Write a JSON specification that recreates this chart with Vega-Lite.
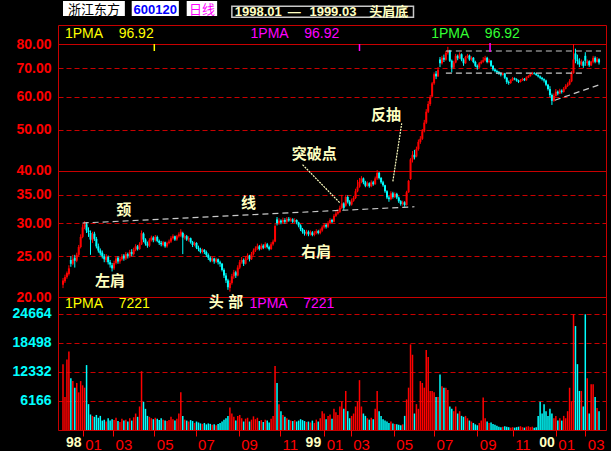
{
"$schema": "https://vega.github.io/schema/vega-lite/v6.json",
"background": "#000000",
"padding": {"left": 0, "top": 0, "right": 6, "bottom": 0},
"spacing": 0,
"bounds": "flush",
"config": {"view": {"stroke": "#c80000", "strokeWidth": 1}, "concat": {"spacing": 0}},
"resolve": {"scale": {"x": "independent", "y": "independent"}},
"datasets": {
"k": [
{"i":0,"o":21.4,"h":22.2,"l":21.0,"c":21.9,"v":14000},
{"i":2,"o":21.8,"h":22.6,"l":21.6,"c":22.3,"v":7000},
{"i":4,"o":22.3,"h":23.0,"l":22.1,"c":22.8,"v":15000},
{"i":6,"o":22.7,"h":23.8,"l":22.5,"c":23.4,"v":16700},
{"i":8,"o":24.5,"h":25.0,"l":23.6,"c":24.0,"v":11000},
{"i":10,"o":24.0,"h":25.2,"l":23.8,"c":24.6,"v":10400},
{"i":12,"o":24.8,"h":25.2,"l":23.5,"c":24.4,"v":9000},
{"i":14,"o":24.4,"h":25.5,"l":24.2,"c":25.2,"v":10000},
{"i":16,"o":25.2,"h":26.6,"l":25.0,"c":26.3,"v":8000},
{"i":18,"o":26.3,"h":28.2,"l":26.1,"c":27.8,"v":10400},
{"i":20,"o":27.8,"h":29.8,"l":27.6,"c":29.3,"v":9500},
{"i":22,"o":29.3,"h":30.3,"l":29.0,"c":29.8,"v":9000},
{"i":24,"o":29.8,"h":30.1,"l":28.4,"c":28.8,"v":13800},
{"i":26,"o":28.8,"h":29.3,"l":27.8,"c":28.5,"v":5500},
{"i":28,"o":28.4,"h":28.8,"l":25.2,"c":27.4,"v":3300},
{"i":30,"o":27.3,"h":28.6,"l":26.9,"c":28.2,"v":3000},
{"i":32,"o":28.3,"h":28.6,"l":27.2,"c":27.5,"v":2800},
{"i":34,"o":27.5,"h":27.8,"l":26.1,"c":26.4,"v":3200},
{"i":36,"o":26.4,"h":26.8,"l":25.5,"c":25.8,"v":2600},
{"i":38,"o":25.8,"h":26.1,"l":25.1,"c":25.4,"v":3000},
{"i":40,"o":25.5,"h":25.8,"l":24.7,"c":25.0,"v":2000},
{"i":42,"o":25.0,"h":25.3,"l":24.2,"c":24.6,"v":2200},
{"i":44,"o":24.5,"h":25.3,"l":24.2,"c":24.9,"v":1800},
{"i":46,"o":24.9,"h":25.1,"l":23.9,"c":24.2,"v":2500},
{"i":48,"o":24.2,"h":24.5,"l":23.5,"c":23.9,"v":2000},
{"i":50,"o":23.8,"h":24.1,"l":23.0,"c":23.4,"v":2300},
{"i":52,"o":23.4,"h":24.4,"l":23.2,"c":24.1,"v":2100},
{"i":54,"o":24.1,"h":25.0,"l":23.9,"c":24.7,"v":2600},
{"i":56,"o":24.8,"h":25.0,"l":24.0,"c":24.3,"v":1900},
{"i":58,"o":24.3,"h":24.9,"l":24.0,"c":24.6,"v":1700},
{"i":60,"o":24.6,"h":25.3,"l":24.4,"c":25.0,"v":2400},
{"i":62,"o":25.1,"h":25.3,"l":24.4,"c":24.7,"v":2000},
{"i":64,"o":24.7,"h":25.6,"l":24.5,"c":25.3,"v":2200},
{"i":66,"o":25.3,"h":25.5,"l":24.7,"c":25.0,"v":1800},
{"i":68,"o":25.0,"h":25.9,"l":24.8,"c":25.6,"v":2500},
{"i":70,"o":25.6,"h":26.0,"l":25.0,"c":25.3,"v":2000},
{"i":72,"o":25.3,"h":26.2,"l":25.1,"c":25.9,"v":2700},
{"i":74,"o":25.9,"h":26.7,"l":25.7,"c":26.4,"v":3500},
{"i":76,"o":26.4,"h":26.6,"l":25.8,"c":26.0,"v":2800},
{"i":78,"o":26.0,"h":27.0,"l":25.9,"c":26.7,"v":5000},
{"i":80,"o":26.7,"h":28.8,"l":26.6,"c":28.4,"v":12500},
{"i":82,"o":28.3,"h":28.5,"l":27.0,"c":27.4,"v":6000},
{"i":84,"o":27.4,"h":27.6,"l":26.5,"c":26.8,"v":4500},
{"i":86,"o":26.8,"h":27.1,"l":26.2,"c":26.5,"v":3000},
{"i":88,"o":26.5,"h":27.6,"l":26.3,"c":27.3,"v":2800},
{"i":90,"o":27.3,"h":28.0,"l":27.1,"c":27.7,"v":2500},
{"i":92,"o":27.7,"h":27.9,"l":27.0,"c":27.3,"v":2300},
{"i":94,"o":27.3,"h":28.1,"l":27.1,"c":27.8,"v":2600},
{"i":96,"o":27.8,"h":28.0,"l":27.0,"c":27.2,"v":2400},
{"i":98,"o":27.2,"h":27.4,"l":26.6,"c":26.9,"v":2100},
{"i":100,"o":26.9,"h":27.2,"l":26.4,"c":26.7,"v":2500},
{"i":102,"o":26.6,"h":27.2,"l":26.4,"c":27.0,"v":2200},
{"i":104,"o":27.0,"h":27.1,"l":26.2,"c":26.4,"v":2000},
{"i":106,"o":26.4,"h":27.1,"l":26.2,"c":26.9,"v":1900},
{"i":108,"o":26.9,"h":27.4,"l":26.7,"c":27.1,"v":2100},
{"i":110,"o":27.1,"h":27.9,"l":26.9,"c":27.6,"v":2800},
{"i":112,"o":27.6,"h":28.2,"l":27.4,"c":27.9,"v":2300},
{"i":114,"o":27.9,"h":28.0,"l":27.2,"c":27.4,"v":2000},
{"i":116,"o":27.4,"h":28.1,"l":27.2,"c":27.9,"v":2400},
{"i":118,"o":27.9,"h":28.5,"l":27.7,"c":28.2,"v":3500},
{"i":120,"o":28.0,"h":29.0,"l":27.8,"c":28.6,"v":8000},
{"i":122,"o":28.4,"h":28.6,"l":25.3,"c":27.7,"v":3000},
{"i":124,"o":27.7,"h":28.2,"l":27.4,"c":27.9,"v":2200},
{"i":126,"o":27.9,"h":28.1,"l":27.2,"c":27.4,"v":2000},
{"i":128,"o":27.4,"h":27.9,"l":27.1,"c":27.6,"v":1800},
{"i":130,"o":27.6,"h":27.7,"l":26.8,"c":27.0,"v":2100},
{"i":132,"o":27.0,"h":27.2,"l":26.3,"c":26.6,"v":1900},
{"i":134,"o":26.6,"h":27.1,"l":26.4,"c":26.9,"v":1500},
{"i":136,"o":26.9,"h":27.0,"l":26.0,"c":26.2,"v":1800},
{"i":138,"o":26.2,"h":26.5,"l":25.7,"c":26.0,"v":1600},
{"i":140,"o":26.0,"h":26.2,"l":25.4,"c":25.6,"v":1400},
{"i":142,"o":25.6,"h":26.1,"l":25.4,"c":25.9,"v":1300},
{"i":144,"o":25.9,"h":26.0,"l":25.3,"c":25.6,"v":1500},
{"i":146,"o":25.6,"h":25.8,"l":24.9,"c":25.2,"v":1200},
{"i":148,"o":25.2,"h":25.4,"l":24.5,"c":24.8,"v":1400},
{"i":150,"o":24.8,"h":25.0,"l":24.2,"c":24.4,"v":1300},
{"i":152,"o":24.4,"h":24.9,"l":24.2,"c":24.7,"v":1100},
{"i":154,"o":24.7,"h":24.8,"l":24.0,"c":24.3,"v":1200},
{"i":156,"o":24.3,"h":24.8,"l":24.1,"c":24.6,"v":1000},
{"i":158,"o":24.6,"h":24.7,"l":23.9,"c":24.2,"v":1300},
{"i":160,"o":24.2,"h":24.4,"l":23.6,"c":24.0,"v":1500},
{"i":162,"o":24.0,"h":24.1,"l":23.0,"c":23.2,"v":1800},
{"i":164,"o":23.2,"h":23.4,"l":22.2,"c":22.5,"v":2200},
{"i":166,"o":22.5,"h":22.8,"l":21.6,"c":21.9,"v":2500},
{"i":168,"o":21.9,"h":22.1,"l":20.8,"c":21.1,"v":3000},
{"i":170,"o":21.0,"h":21.9,"l":20.6,"c":21.6,"v":4800},
{"i":172,"o":21.6,"h":22.7,"l":21.4,"c":22.4,"v":3500},
{"i":174,"o":22.4,"h":23.2,"l":22.1,"c":22.9,"v":2800},
{"i":176,"o":22.9,"h":23.1,"l":22.2,"c":22.5,"v":2000},
{"i":178,"o":22.5,"h":23.8,"l":22.4,"c":23.5,"v":3000},
{"i":180,"o":23.5,"h":24.5,"l":23.3,"c":24.2,"v":3200},
{"i":182,"o":24.2,"h":24.9,"l":24.0,"c":24.5,"v":2500},
{"i":184,"o":24.5,"h":24.7,"l":23.7,"c":24.0,"v":1800},
{"i":186,"o":24.0,"h":25.0,"l":23.9,"c":24.7,"v":2400},
{"i":188,"o":24.7,"h":25.4,"l":24.5,"c":25.1,"v":2600},
{"i":190,"o":25.1,"h":25.2,"l":24.3,"c":24.6,"v":1800},
{"i":192,"o":24.6,"h":25.6,"l":24.5,"c":25.3,"v":2200},
{"i":194,"o":25.3,"h":26.1,"l":25.1,"c":25.8,"v":2900},
{"i":196,"o":25.8,"h":26.4,"l":25.6,"c":26.1,"v":2300},
{"i":198,"o":26.1,"h":26.8,"l":25.9,"c":26.4,"v":2600},
{"i":200,"o":26.4,"h":26.6,"l":25.8,"c":26.0,"v":1900},
{"i":202,"o":26.0,"h":26.8,"l":25.9,"c":26.5,"v":2100},
{"i":204,"o":26.5,"h":26.7,"l":26.0,"c":26.2,"v":1700},
{"i":206,"o":26.2,"h":27.0,"l":26.1,"c":26.7,"v":2200},
{"i":208,"o":26.7,"h":26.9,"l":26.1,"c":26.3,"v":2000},
{"i":210,"o":26.3,"h":26.5,"l":25.8,"c":26.0,"v":1600},
{"i":212,"o":26.0,"h":27.0,"l":25.9,"c":26.7,"v":2400},
{"i":214,"o":26.7,"h":27.4,"l":26.5,"c":27.1,"v":3000},
{"i":216,"o":27.1,"h":29.8,"l":27.0,"c":29.5,"v":13600},
{"i":218,"o":30.6,"h":31.0,"l":29.6,"c":30.0,"v":10000},
{"i":220,"o":30.0,"h":30.8,"l":29.7,"c":30.4,"v":5500},
{"i":222,"o":30.4,"h":30.6,"l":29.8,"c":30.1,"v":4000},
{"i":224,"o":30.1,"h":30.9,"l":29.9,"c":30.5,"v":3200},
{"i":226,"o":30.5,"h":30.8,"l":29.9,"c":30.2,"v":2800},
{"i":228,"o":30.2,"h":31.0,"l":30.0,"c":30.7,"v":2500},
{"i":230,"o":30.7,"h":31.0,"l":30.2,"c":30.4,"v":2200},
{"i":232,"o":30.4,"h":30.9,"l":30.2,"c":30.6,"v":2000},
{"i":234,"o":30.6,"h":30.8,"l":30.0,"c":30.2,"v":1900},
{"i":236,"o":30.2,"h":30.8,"l":30.0,"c":30.5,"v":2100},
{"i":238,"o":30.5,"h":30.6,"l":29.8,"c":30.1,"v":1800},
{"i":240,"o":30.1,"h":30.2,"l":29.3,"c":29.6,"v":2000},
{"i":242,"o":29.6,"h":29.8,"l":28.7,"c":29.0,"v":2300},
{"i":244,"o":29.0,"h":29.2,"l":28.3,"c":28.6,"v":2100},
{"i":246,"o":28.6,"h":28.9,"l":28.0,"c":28.3,"v":1900},
{"i":248,"o":28.3,"h":28.9,"l":28.0,"c":28.6,"v":1700},
{"i":250,"o":28.6,"h":28.8,"l":27.9,"c":28.2,"v":1800},
{"i":252,"o":28.2,"h":28.8,"l":28.0,"c":28.5,"v":1600},
{"i":254,"o":28.5,"h":28.7,"l":27.9,"c":28.1,"v":2000},
{"i":256,"o":28.1,"h":28.7,"l":27.9,"c":28.4,"v":1500},
{"i":258,"o":28.4,"h":29.0,"l":28.2,"c":28.7,"v":2200},
{"i":260,"o":28.7,"h":28.9,"l":28.2,"c":28.4,"v":1800},
{"i":262,"o":28.4,"h":29.1,"l":28.2,"c":28.8,"v":2500},
{"i":264,"o":28.8,"h":29.6,"l":28.6,"c":29.3,"v":4000},
{"i":266,"o":29.3,"h":30.0,"l":29.1,"c":29.7,"v":3500},
{"i":268,"o":29.7,"h":29.9,"l":29.1,"c":29.4,"v":2300},
{"i":270,"o":29.4,"h":30.3,"l":29.2,"c":30.0,"v":3000},
{"i":272,"o":30.0,"h":30.8,"l":29.8,"c":30.5,"v":3300},
{"i":274,"o":30.5,"h":30.7,"l":30.0,"c":30.2,"v":2400},
{"i":276,"o":30.2,"h":31.5,"l":30.1,"c":31.2,"v":4500},
{"i":278,"o":31.2,"h":32.0,"l":31.0,"c":31.6,"v":3800},
{"i":280,"o":31.6,"h":32.3,"l":31.4,"c":31.9,"v":3200},
{"i":282,"o":31.9,"h":33.0,"l":31.7,"c":32.6,"v":5000},
{"i":284,"o":32.6,"h":35.0,"l":32.4,"c":33.4,"v":6000},
{"i":286,"o":33.4,"h":33.6,"l":32.2,"c":32.6,"v":4500},
{"i":288,"o":33.0,"h":35.0,"l":32.8,"c":34.6,"v":8300},
{"i":290,"o":34.6,"h":34.9,"l":33.4,"c":33.7,"v":4000},
{"i":292,"o":33.7,"h":34.0,"l":32.9,"c":33.2,"v":2500},
{"i":294,"o":33.2,"h":34.3,"l":33.0,"c":33.9,"v":3000},
{"i":296,"o":33.9,"h":34.8,"l":33.7,"c":34.4,"v":3500},
{"i":298,"o":34.4,"h":36.2,"l":34.2,"c":35.7,"v":5000},
{"i":300,"o":35.7,"h":38.0,"l":35.5,"c":36.6,"v":6000},
{"i":302,"o":36.6,"h":38.4,"l":36.4,"c":37.6,"v":10600},
{"i":304,"o":37.6,"h":38.8,"l":37.3,"c":38.3,"v":5000},
{"i":306,"o":38.3,"h":38.5,"l":37.1,"c":37.5,"v":3500},
{"i":308,"o":37.5,"h":37.8,"l":36.5,"c":36.8,"v":3000},
{"i":310,"o":36.8,"h":37.7,"l":36.6,"c":37.3,"v":2500},
{"i":312,"o":37.3,"h":37.5,"l":36.4,"c":36.7,"v":2200},
{"i":314,"o":36.7,"h":37.9,"l":36.5,"c":37.5,"v":2600},
{"i":316,"o":37.5,"h":37.8,"l":36.8,"c":37.1,"v":2300},
{"i":318,"o":37.1,"h":38.7,"l":37.0,"c":38.3,"v":4500},
{"i":320,"o":38.3,"h":40.1,"l":38.0,"c":39.5,"v":8300},
{"i":322,"o":39.5,"h":39.7,"l":38.1,"c":38.4,"v":4000},
{"i":324,"o":38.4,"h":38.6,"l":37.2,"c":37.5,"v":3000},
{"i":326,"o":37.5,"h":37.8,"l":36.6,"c":36.9,"v":2300},
{"i":328,"o":36.9,"h":37.0,"l":35.4,"c":35.7,"v":2000},
{"i":330,"o":35.7,"h":35.9,"l":34.2,"c":34.5,"v":1800},
{"i":332,"o":34.5,"h":34.8,"l":33.7,"c":34.2,"v":1500},
{"i":334,"o":34.2,"h":35.7,"l":34.0,"c":35.3,"v":1800},
{"i":336,"o":35.3,"h":35.6,"l":34.3,"c":34.6,"v":1400},
{"i":338,"o":34.6,"h":35.5,"l":34.4,"c":35.2,"v":1300},
{"i":340,"o":35.2,"h":35.4,"l":34.2,"c":34.5,"v":1200},
{"i":342,"o":34.5,"h":34.7,"l":33.5,"c":33.8,"v":1100},
{"i":344,"o":33.8,"h":34.0,"l":33.0,"c":33.3,"v":1000},
{"i":346,"o":33.3,"h":33.9,"l":33.0,"c":33.6,"v":1200},
{"i":348,"o":33.6,"h":33.8,"l":32.8,"c":33.1,"v":3000},
{"i":350,"o":33.1,"h":35.8,"l":33.0,"c":35.5,"v":6500},
{"i":352,"o":35.5,"h":38.0,"l":35.4,"c":37.8,"v":9000},
{"i":354,"o":38.2,"h":42.8,"l":38.0,"c":42.5,"v":18200},
{"i":356,"o":42.5,"h":44.5,"l":41.8,"c":43.6,"v":16000},
{"i":358,"o":43.6,"h":44.8,"l":42.5,"c":43.0,"v":3500},
{"i":360,"o":43.2,"h":45.6,"l":43.0,"c":45.0,"v":5500},
{"i":362,"o":45.0,"h":47.4,"l":44.6,"c":46.8,"v":4500},
{"i":364,"o":46.8,"h":48.3,"l":46.3,"c":47.6,"v":10400},
{"i":366,"o":47.6,"h":50.2,"l":47.3,"c":49.6,"v":10000},
{"i":368,"o":49.6,"h":52.8,"l":49.3,"c":52.0,"v":9000},
{"i":370,"o":52.0,"h":56.0,"l":51.6,"c":55.2,"v":17000},
{"i":372,"o":55.2,"h":58.5,"l":54.8,"c":57.6,"v":15500},
{"i":374,"o":57.6,"h":60.5,"l":57.0,"c":59.8,"v":8300},
{"i":376,"o":60.0,"h":65.0,"l":59.7,"c":64.5,"v":8300},
{"i":378,"o":64.5,"h":68.5,"l":64.0,"c":67.8,"v":8000},
{"i":380,"o":68.0,"h":69.0,"l":66.0,"c":67.0,"v":7000},
{"i":382,"o":67.0,"h":70.5,"l":66.8,"c":69.5,"v":7000},
{"i":384,"o":73.5,"h":74.5,"l":70.5,"c":72.0,"v":11800},
{"i":386,"o":72.0,"h":75.0,"l":71.5,"c":74.2,"v":9300},
{"i":388,"o":74.2,"h":75.5,"l":72.5,"c":73.4,"v":9000},
{"i":390,"o":73.4,"h":77.0,"l":73.0,"c":76.2,"v":9000},
{"i":392,"o":76.2,"h":78.8,"l":75.5,"c":77.2,"v":8500},
{"i":394,"o":77.2,"h":77.5,"l":72.5,"c":73.0,"v":5000},
{"i":396,"o":73.0,"h":73.5,"l":68.5,"c":70.3,"v":4500},
{"i":398,"o":70.3,"h":73.0,"l":69.8,"c":72.3,"v":4000},
{"i":400,"o":72.3,"h":75.8,"l":72.0,"c":75.0,"v":5000},
{"i":402,"o":75.0,"h":75.5,"l":73.2,"c":74.0,"v":3500},
{"i":404,"o":74.0,"h":76.5,"l":73.7,"c":75.6,"v":4000},
{"i":406,"o":75.6,"h":76.0,"l":72.8,"c":73.5,"v":3000},
{"i":408,"o":73.5,"h":74.0,"l":71.0,"c":72.0,"v":2800},
{"i":410,"o":72.0,"h":75.0,"l":71.8,"c":74.5,"v":3000},
{"i":412,"o":74.5,"h":75.8,"l":74.0,"c":75.1,"v":2500},
{"i":414,"o":75.1,"h":75.5,"l":73.0,"c":73.5,"v":2000},
{"i":416,"o":73.5,"h":74.8,"l":73.0,"c":74.2,"v":1800},
{"i":418,"o":74.2,"h":74.5,"l":72.0,"c":72.5,"v":1500},
{"i":420,"o":72.5,"h":73.0,"l":70.5,"c":71.0,"v":1200},
{"i":422,"o":71.0,"h":71.5,"l":69.5,"c":70.4,"v":1000},
{"i":424,"o":70.4,"h":72.5,"l":70.0,"c":72.0,"v":1500},
{"i":426,"o":72.0,"h":73.2,"l":71.6,"c":72.6,"v":2000},
{"i":428,"o":72.6,"h":74.5,"l":72.2,"c":73.2,"v":6900},
{"i":430,"o":73.2,"h":75.0,"l":72.8,"c":74.2,"v":2500},
{"i":432,"o":74.2,"h":74.6,"l":72.0,"c":72.5,"v":1800},
{"i":434,"o":72.5,"h":73.8,"l":72.0,"c":73.0,"v":1500},
{"i":436,"o":73.0,"h":73.3,"l":70.5,"c":71.0,"v":1600},
{"i":438,"o":71.0,"h":71.3,"l":69.0,"c":69.6,"v":1300},
{"i":440,"o":69.6,"h":70.0,"l":68.5,"c":69.0,"v":1100},
{"i":442,"o":69.0,"h":69.5,"l":68.0,"c":68.6,"v":900},
{"i":444,"o":68.6,"h":69.0,"l":67.6,"c":68.1,"v":700},
{"i":446,"o":68.1,"h":68.5,"l":67.0,"c":67.6,"v":600},
{"i":448,"o":67.6,"h":68.5,"l":67.3,"c":68.1,"v":700},
{"i":450,"o":68.1,"h":68.3,"l":66.0,"c":66.5,"v":800},
{"i":452,"o":66.5,"h":66.8,"l":64.3,"c":65.0,"v":700},
{"i":454,"o":65.0,"h":65.5,"l":64.0,"c":64.6,"v":600},
{"i":456,"o":64.6,"h":66.0,"l":64.3,"c":65.6,"v":500},
{"i":458,"o":65.6,"h":66.8,"l":65.3,"c":66.3,"v":600},
{"i":460,"o":66.3,"h":66.6,"l":65.6,"c":66.0,"v":500},
{"i":462,"o":66.0,"h":66.3,"l":65.1,"c":65.5,"v":600},
{"i":464,"o":65.5,"h":65.8,"l":64.6,"c":65.0,"v":700},
{"i":466,"o":65.0,"h":66.0,"l":64.8,"c":65.6,"v":800},
{"i":468,"o":65.6,"h":66.5,"l":65.3,"c":66.1,"v":600},
{"i":470,"o":66.1,"h":66.4,"l":65.3,"c":65.6,"v":500},
{"i":472,"o":65.6,"h":67.0,"l":65.4,"c":66.6,"v":700},
{"i":474,"o":66.6,"h":67.5,"l":66.4,"c":67.1,"v":800},
{"i":476,"o":67.1,"h":68.2,"l":66.9,"c":67.8,"v":600},
{"i":478,"o":67.8,"h":68.7,"l":67.6,"c":68.3,"v":700},
{"i":480,"o":68.3,"h":68.6,"l":67.7,"c":68.0,"v":500},
{"i":482,"o":68.0,"h":68.3,"l":67.2,"c":67.5,"v":600},
{"i":484,"o":67.5,"h":67.8,"l":66.6,"c":67.0,"v":3000},
{"i":486,"o":67.0,"h":67.3,"l":66.0,"c":66.5,"v":6000},
{"i":488,"o":66.5,"h":66.8,"l":65.5,"c":66.0,"v":3500},
{"i":490,"o":66.0,"h":66.3,"l":64.8,"c":65.5,"v":5500},
{"i":492,"o":65.5,"h":65.8,"l":63.5,"c":64.0,"v":4000},
{"i":494,"o":64.0,"h":64.3,"l":62.0,"c":62.5,"v":3000},
{"i":496,"o":62.5,"h":63.5,"l":59.8,"c":60.5,"v":4500},
{"i":498,"o":60.5,"h":61.0,"l":57.3,"c":58.6,"v":3500},
{"i":500,"o":58.6,"h":61.0,"l":58.3,"c":60.2,"v":2500},
{"i":502,"o":60.2,"h":62.5,"l":60.0,"c":61.6,"v":3000},
{"i":504,"o":61.6,"h":62.0,"l":60.4,"c":61.0,"v":2000},
{"i":506,"o":61.0,"h":62.6,"l":60.8,"c":62.0,"v":2500},
{"i":508,"o":62.0,"h":62.4,"l":61.0,"c":61.5,"v":2000},
{"i":510,"o":61.5,"h":63.2,"l":61.3,"c":62.6,"v":3000},
{"i":512,"o":62.6,"h":64.2,"l":62.4,"c":63.6,"v":2500},
{"i":514,"o":63.6,"h":64.8,"l":63.2,"c":64.1,"v":4000},
{"i":516,"o":64.1,"h":66.0,"l":63.8,"c":65.2,"v":9000},
{"i":518,"o":65.2,"h":69.0,"l":64.9,"c":68.2,"v":6000},
{"i":520,"o":68.2,"h":80.0,"l":68.0,"c":73.5,"v":24600},
{"i":522,"o":76.0,"h":78.0,"l":72.0,"c":73.5,"v":22100},
{"i":524,"o":73.5,"h":75.5,"l":71.5,"c":72.8,"v":14000},
{"i":526,"o":72.8,"h":74.0,"l":70.5,"c":71.5,"v":8300},
{"i":528,"o":71.5,"h":73.5,"l":71.0,"c":72.6,"v":8300},
{"i":530,"o":72.6,"h":73.0,"l":70.2,"c":71.0,"v":5000},
{"i":532,"o":75.0,"h":76.5,"l":71.0,"c":73.0,"v":24600},
{"i":534,"o":72.0,"h":73.5,"l":71.0,"c":72.8,"v":11000},
{"i":536,"o":72.8,"h":73.2,"l":70.6,"c":71.2,"v":3500},
{"i":538,"o":71.2,"h":73.0,"l":70.9,"c":72.6,"v":9700},
{"i":540,"o":72.6,"h":75.0,"l":72.0,"c":74.2,"v":9700},
{"i":542,"o":74.2,"h":74.8,"l":72.0,"c":72.6,"v":7000},
{"i":544,"o":72.6,"h":74.5,"l":72.3,"c":73.6,"v":4700},
{"i":546,"o":73.6,"h":74.0,"l":71.5,"c":72.3,"v":4000}
],
"lines": [
{"g":"neck","i":20,"p":30.0},{"g":"neck","i":358,"p":32.8},
{"g":"top","i":390,"p":77.0},{"g":"top","i":548,"p":77.0},
{"g":"bot","i":390,"p":68.2},{"g":"bot","i":531,"p":68.2},
{"g":"rise","i":501,"p":58.8},{"g":"rise","i":548,"p":64.2}
],
"pointers": [
{"g":"p1","i":244,"p":41.3},{"g":"p1","i":282,"p":33.5},
{"g":"p2","i":345,"p":51.8},{"g":"p2","i":336,"p":37.7}
],
"notes": [
{"t":"颈","i":62,"p":32.3},
{"t":"线","i":189,"p":33.4},
{"t":"左肩","i":48,"p":21.85},
{"t":"右肩","i":258,"p":25.6},
{"t":"突破点","i":256,"p":43.7},
{"t":"反抽","i":329,"p":54.1}
]
},
"vconcat": [
{
"width": 548,
"height": 272,
"layer": [
{
"data": {"name": "k"},
"mark": {"type": "rule", "strokeWidth": 1},
"encoding": {
"x": {"field": "i", "type": "quantitative", "scale": {"domain": [0, 548], "nice": false, "zero": false}, "axis": null},
"y": {"field": "l", "type": "quantitative", "scale": {"type": "log", "domain": [20, 88.8], "nice": false},
"axis": {"values": [20, 25, 30, 35, 40, 50, 60, 70, 80], "format": ".2f", "title": null, "labelColor": "#ff0000", "labelFont": "Liberation Sans", "labelFontSize": 14, "labelFontWeight": "bold", "ticks": false, "labelPadding": 7, "domain": false, "grid": true, "gridColor": "#c80000", "gridWidth": 1, "gridDash": {"condition": {"test": "datum.value == 40 || datum.value == 80", "value": []}, "value": [5, 3]}, "minExtent": 57, "maxExtent": 57, "labelOverlap": false}},
"y2": {"field": "h"},
"color": {"condition": {"test": "datum.c >= datum.o", "value": "#ff0000"}, "value": "#00ffff"}
}
},
{
"data": {"name": "k"},
"mark": {"type": "bar", "size": 2},
"encoding": {
"x": {"field": "i", "type": "quantitative"},
"y": {"field": "o", "type": "quantitative"},
"y2": {"field": "c"},
"color": {"condition": {"test": "datum.c >= datum.o", "value": "#ff0000"}, "value": "#00ffff"}
}
},
{
"data": {"name": "lines"},
"mark": {"type": "line", "color": "#c8c8c8", "strokeWidth": 1.2, "strokeDash": [6, 4], "clip": false},
"encoding": {"x": {"field": "i", "type": "quantitative"}, "y": {"field": "p", "type": "quantitative"}, "detail": {"field": "g"}}
},
{
"data": {"name": "pointers"},
"mark": {"type": "line", "color": "#ffffc0", "strokeWidth": 1.2, "strokeDash": [2, 1], "clip": false},
"encoding": {"x": {"field": "i", "type": "quantitative"}, "y": {"field": "p", "type": "quantitative"}, "detail": {"field": "g"}}
},
{
"data": {"name": "notes"},
"mark": {"type": "text", "color": "#ffffc0", "font": "Noto Sans CJK SC", "fontSize": 15, "fontWeight": "bold", "align": "center", "baseline": "middle", "clip": false},
"encoding": {"x": {"field": "i", "type": "quantitative"}, "y": {"field": "p", "type": "quantitative"}, "text": {"field": "t"}}
},
{
"data": {"values": [{"a": 0, "b": 63, "p1": 93.3, "p2": 101.3}, {"a": 70, "b": 118, "p1": 93.3, "p2": 101.3}, {"a": 126, "b": 157, "p1": 93.3, "p2": 101.3}]},
"mark": {"type": "rect", "color": "#ffffff", "clip": false},
"encoding": {"x": {"field": "a", "type": "quantitative"}, "x2": {"field": "b"}, "y": {"field": "p1", "type": "quantitative"}, "y2": {"field": "p2"}}
},
{
"data": {"values": [{"a": 172, "b": 357, "p1": 92.7, "p2": 98.4}]},
"mark": {"type": "rect", "fillOpacity": 0, "stroke": "#c8c8c8", "strokeWidth": 1.5, "clip": false},
"encoding": {"x": {"field": "a", "type": "quantitative"}, "x2": {"field": "b"}, "y": {"field": "p1", "type": "quantitative"}, "y2": {"field": "p2"}}
},
{
"data": {"values": [{"t": "浙江东方", "i": 31.5, "p": 96.2}]},
"mark": {"type": "text", "color": "#000000", "font": "Noto Sans CJK SC", "fontSize": 13, "align": "center", "baseline": "middle", "clip": false},
"encoding": {"x": {"field": "i", "type": "quantitative"}, "y": {"field": "p", "type": "quantitative"}, "text": {"field": "t"}}
},
{
"data": {"values": [{"t": "600120", "i": 94, "p": 96.6}]},
"mark": {"type": "text", "color": "#0000ff", "font": "Liberation Sans", "fontSize": 13, "fontWeight": "bold", "align": "center", "baseline": "middle", "clip": false},
"encoding": {"x": {"field": "i", "type": "quantitative"}, "y": {"field": "p", "type": "quantitative"}, "text": {"field": "t"}}
},
{
"data": {"values": [{"t": "日线", "i": 141.5, "p": 96.2}]},
"mark": {"type": "text", "color": "#ff00ff", "font": "Noto Sans CJK SC", "fontSize": 13, "align": "center", "baseline": "middle", "clip": false},
"encoding": {"x": {"field": "i", "type": "quantitative"}, "y": {"field": "p", "type": "quantitative"}, "text": {"field": "t"}}
},
{
"data": {"values": [{"t": "1998.01", "i": 175, "p": 95.4}, {"t": "—", "i": 229, "p": 95.4}, {"t": "1999.03", "i": 251, "p": 95.4}]},
"mark": {"type": "text", "color": "#ffffc0", "font": "Liberation Sans", "fontSize": 13, "fontWeight": "bold", "align": "left", "baseline": "middle", "clip": false},
"encoding": {"x": {"field": "i", "type": "quantitative"}, "y": {"field": "p", "type": "quantitative"}, "text": {"field": "t"}}
},
{
"data": {"values": [{"t": "头肩底", "i": 312, "p": 95.4}]},
"mark": {"type": "text", "color": "#ffffc0", "font": "Noto Sans CJK SC", "fontSize": 13, "fontWeight": "bold", "align": "left", "baseline": "middle", "clip": false},
"encoding": {"x": {"field": "i", "type": "quantitative"}, "y": {"field": "p", "type": "quantitative"}, "text": {"field": "t"}}
},
{
"data": {"values": [{"t": "1PMA\u00a0\u00a0\u00a0\u00a096.92", "i": 2, "p": 84.5}]},
"mark": {"type": "text", "color": "#ffff00", "font": "Liberation Sans", "fontSize": 14, "align": "left", "baseline": "middle", "clip": false},
"encoding": {"x": {"field": "i", "type": "quantitative"}, "y": {"field": "p", "type": "quantitative"}, "text": {"field": "t"}}
},
{
"data": {"values": [{"t": "1PMA\u00a0\u00a0\u00a0\u00a096.92", "i": 191, "p": 84.5}]},
"mark": {"type": "text", "color": "#ff00ff", "font": "Liberation Sans", "fontSize": 14, "align": "left", "baseline": "middle", "clip": false},
"encoding": {"x": {"field": "i", "type": "quantitative"}, "y": {"field": "p", "type": "quantitative"}, "text": {"field": "t"}}
},
{
"data": {"values": [{"t": "1PMA\u00a0\u00a0\u00a0\u00a096.92", "i": 375, "p": 84.5}]},
"mark": {"type": "text", "color": "#33ff33", "font": "Liberation Sans", "fontSize": 14, "align": "left", "baseline": "middle", "clip": false},
"encoding": {"x": {"field": "i", "type": "quantitative"}, "y": {"field": "p", "type": "quantitative"}, "text": {"field": "t"}}
},
{
"data": {"values": [{"i": 93, "a": 80, "b": 77.0}]},
"mark": {"type": "rule", "color": "#ffff00", "strokeWidth": 1.5},
"encoding": {"x": {"field": "i", "type": "quantitative"}, "y": {"field": "a", "type": "quantitative"}, "y2": {"field": "b"}}
},
{
"data": {"values": [{"i": 302, "a": 80, "b": 77.0}, {"i": 435, "a": 80.5, "b": 76.6}]},
"mark": {"type": "rule", "color": "#ff00ff", "strokeWidth": 1.5},
"encoding": {"x": {"field": "i", "type": "quantitative"}, "y": {"field": "a", "type": "quantitative"}, "y2": {"field": "b"}}
}
]
},
{
"width": 548,
"height": 133,
"layer": [
{
"data": {"name": "k"},
"mark": {"type": "bar", "size": 1.5},
"encoding": {
"x": {"field": "i", "type": "quantitative", "scale": {"domain": [0, 548], "nice": false, "zero": false},
"axis": {"values": [20, 51, 93, 135, 179, 221, 266, 293, 337, 378, 422, 458, 502, 532], "labelExpr": "indexof([20,266,502], datum.value) >= 0 ? '01' : indexof([51,293,532], datum.value) >= 0 ? '03' : indexof([93,337], datum.value) >= 0 ? '05' : indexof([135,378], datum.value) >= 0 ? '07' : indexof([179,422], datum.value) >= 0 ? '09' : '11'", "title": null, "labelColor": "#ff0000", "labelFont": "Liberation Sans", "labelFontSize": 15, "labelAlign": "left", "labelOffset": 2, "labelPadding": 1, "tickColor": "#ff0000", "tickSize": 6, "domain": false, "grid": false, "labelFlush": false, "labelOverlap": false, "labelBound": false}},
"y": {"field": "v", "type": "quantitative", "scale": {"domain": [0, 28276], "nice": false},
"axis": {"values": [6166, 12332, 18498, 24664], "format": "d", "title": null, "labelColor": "#00ffff", "labelFont": "Liberation Sans", "labelFontSize": 14, "labelFontWeight": "bold", "ticks": false, "labelPadding": 7, "domain": false, "grid": true, "gridColor": "#c80000", "gridDash": [5, 3], "minExtent": 57, "maxExtent": 57, "labelOverlap": false}},
"color": {"condition": {"test": "datum.c >= datum.o", "value": "#ff0000"}, "value": "#00ffff"}
}
},
{
"data": {"values": [{"t": "1PMA\u00a0\u00a0\u00a0\u00a07221", "i": 2, "v": 26800}]},
"mark": {"type": "text", "color": "#ffff00", "font": "Liberation Sans", "fontSize": 14, "align": "left", "baseline": "middle", "clip": false},
"encoding": {"x": {"field": "i", "type": "quantitative"}, "y": {"field": "v", "type": "quantitative"}, "text": {"field": "t"}}
},
{
"data": {"values": [{"t": "1PMA\u00a0\u00a0\u00a0\u00a07221", "i": 190, "v": 26800}]},
"mark": {"type": "text", "color": "#ff00ff", "font": "Liberation Sans", "fontSize": 14, "align": "left", "baseline": "middle", "clip": false},
"encoding": {"x": {"field": "i", "type": "quantitative"}, "y": {"field": "v", "type": "quantitative"}, "text": {"field": "t"}}
},
{
"data": {"values": [{"t": "头", "i": 156, "v": 27200}, {"t": "部", "i": 176, "v": 27200}]},
"mark": {"type": "text", "color": "#ffffc0", "font": "Noto Sans CJK SC", "fontSize": 15, "fontWeight": "bold", "align": "center", "baseline": "middle", "clip": false},
"encoding": {"x": {"field": "i", "type": "quantitative"}, "y": {"field": "v", "type": "quantitative"}, "text": {"field": "t"}}
},
{
"data": {"values": [{"t": "98", "i": 19, "v": -2700}, {"t": "99", "i": 263, "v": -2700}, {"t": "00", "i": 501, "v": -2700}]},
"mark": {"type": "text", "color": "#ffffc0", "font": "Liberation Sans", "fontSize": 14, "fontWeight": "bold", "align": "right", "baseline": "middle", "clip": false},
"encoding": {"x": {"field": "i", "type": "quantitative"}, "y": {"field": "v", "type": "quantitative"}, "text": {"field": "t"}}
}
]
}
]
}
